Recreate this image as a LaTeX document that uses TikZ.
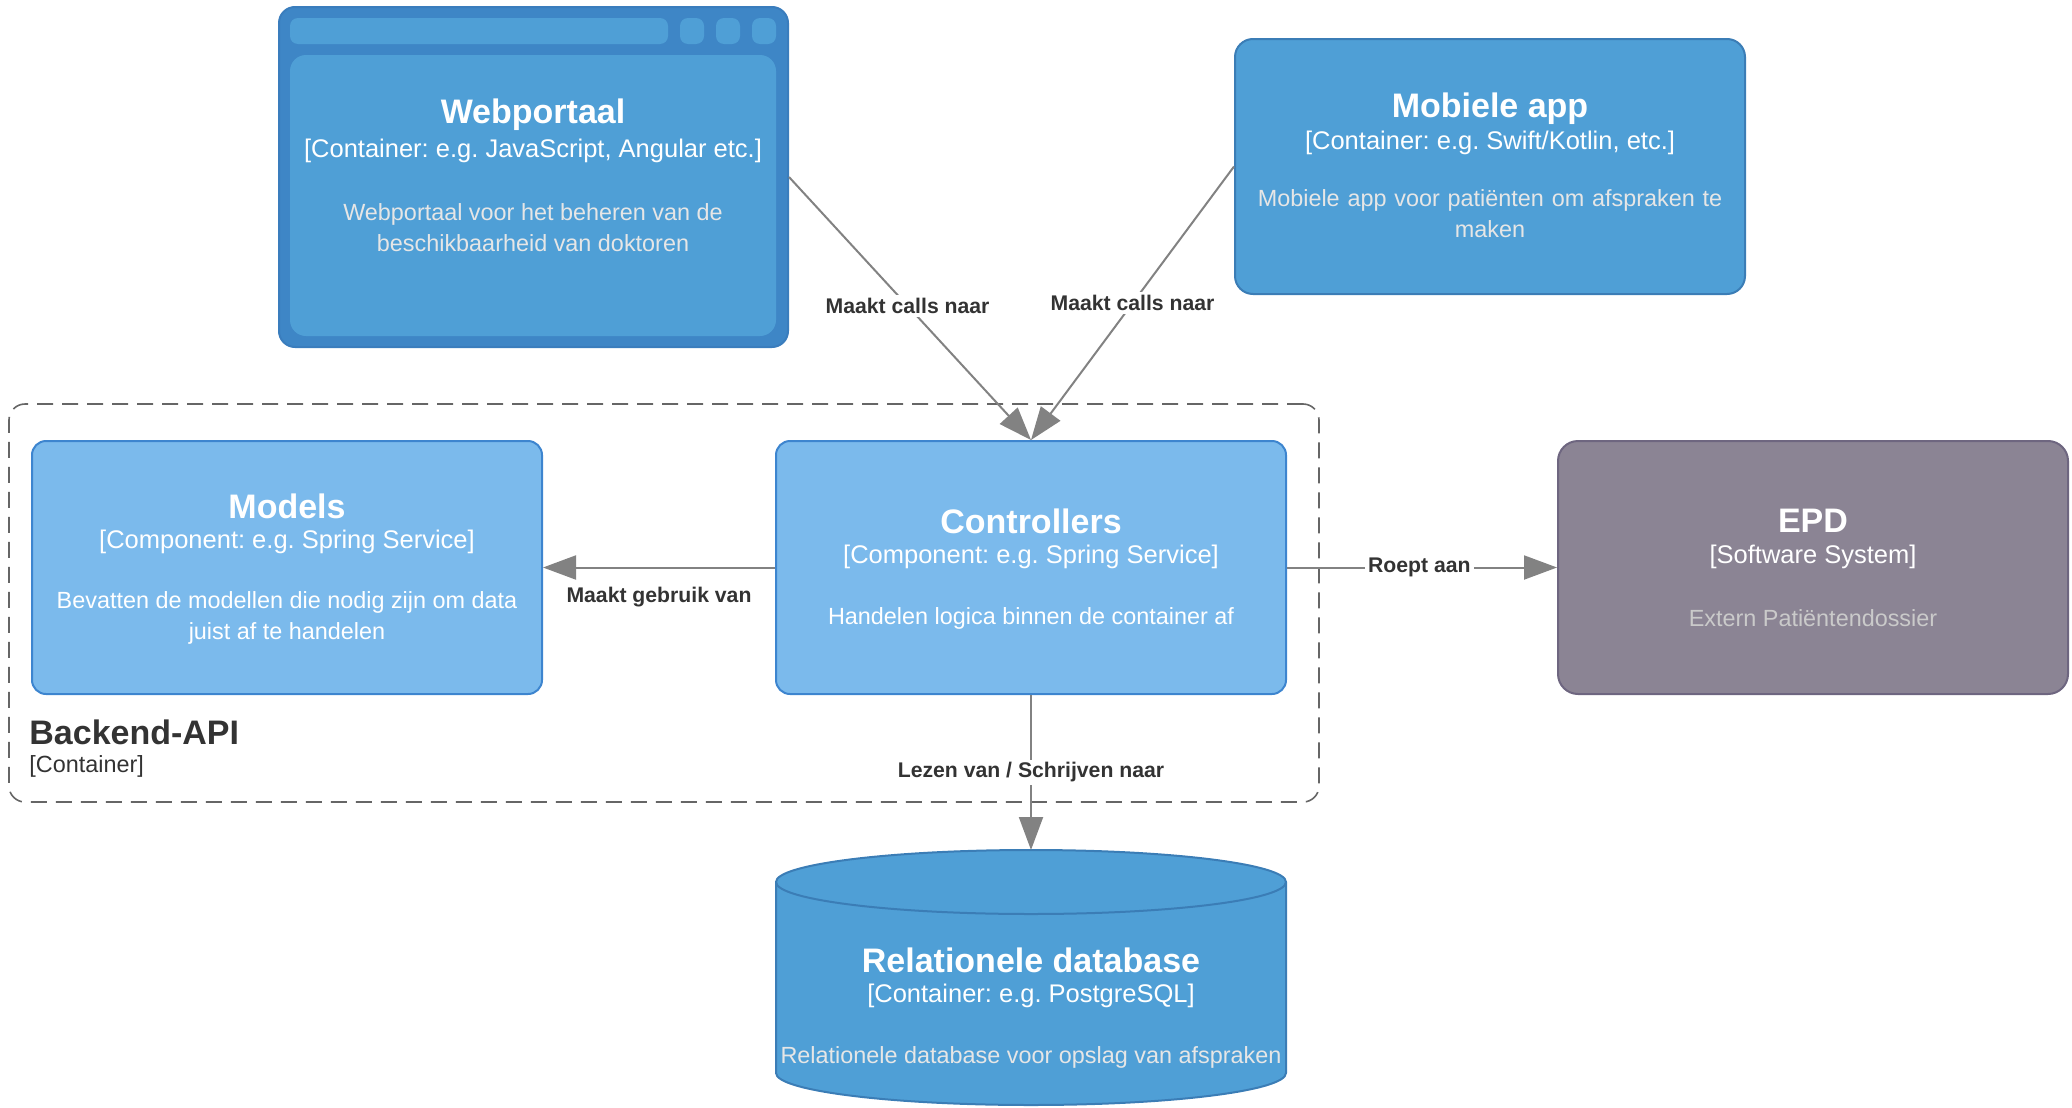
\documentclass[tikz,border=0pt]{standalone}
\usepackage{fontspec}
\setmainfont{Liberation Sans}
\usetikzlibrary{arrows.meta}
\definecolor{contfill}{HTML}{4F9FD6}
\definecolor{contstroke}{HTML}{3B7DB6}
\definecolor{webouter}{HTML}{3E86C6}
\definecolor{webstroke}{HTML}{3A7DBD}
\definecolor{compfill}{HTML}{7BBAEC}
\definecolor{compstroke}{HTML}{3D85CF}
\definecolor{extfill}{HTML}{8B8494}
\definecolor{extstroke}{HTML}{6E6680}
\definecolor{edgegray}{HTML}{828282}
\definecolor{boundgray}{HTML}{666666}
\definecolor{labelgray}{HTML}{333333}
\definecolor{descgray}{HTML}{E6E6E6}
\definecolor{extdesc}{HTML}{CACACA}
\frenchspacing
\begin{document}
\begin{tikzpicture}[x=0.5pt,y=-0.5pt,
  box/.style={draw, rounded corners=7pt, line width=1pt, inner sep=0pt},
  titletext/.style={text=white, font=\fontsize{17}{20}\selectfont\bfseries, inner sep=0pt},
  techtext/.style={text=white, font=\fontsize{12.75}{15}\selectfont, inner sep=0pt},
  desctext/.style={text=descgray, font=\fontsize{11.7}{15.5}\selectfont, align=center, inner sep=0pt},
  rel/.style={draw=edgegray, line width=1pt, -{Triangle[length=16.5pt,width=12pt]}},
  rellabel/.style={font=\fontsize{10.6}{12}\selectfont\bfseries, text=labelgray, fill=white, inner sep=1.5pt}
]
\useasboundingbox (0,0) rectangle (2072,1108);

% Backend boundary
\node[draw=boundgray, dash pattern=on 8pt off 4.5pt, line width=0.8pt, rounded corners=8pt,
      minimum width=655pt, minimum height=199pt, inner sep=0pt] (backend) at (664,603) {};
\node[anchor=west, text=labelgray, font=\fontsize{17}{20}\selectfont\bfseries, inner sep=0pt] (backendtitle) at (29,732) {Backend-API};
\node[anchor=west, text=labelgray, font=\fontsize{11.7}{14}\selectfont, inner sep=0pt] (backendtype) at (29,766) {[Container]};

% Webportaal (browser container)
\node[box, fill=webouter, draw=webstroke, rounded corners=8pt, minimum width=254.5pt, minimum height=170pt] (web) at (533.5,177) {};
\node[fill=contfill, rounded corners=4pt, minimum width=189pt, minimum height=13pt, inner sep=0pt] (webbar) at (479,31) {};
\node[fill=contfill, rounded corners=4pt, minimum width=12pt, minimum height=13pt, inner sep=0pt] (webbtna) at (692,31) {};
\node[fill=contfill, rounded corners=4pt, minimum width=12pt, minimum height=13pt, inner sep=0pt] (webbtnb) at (728,31) {};
\node[fill=contfill, rounded corners=4pt, minimum width=12pt, minimum height=13pt, inner sep=0pt] (webbtnc) at (764,31) {};
\node[fill=contfill, rounded corners=8pt, minimum width=243pt, minimum height=140.5pt, inner sep=0pt] (webinner) at (533,195.5) {};
\node[titletext] (webtitle) at (533,115) {Webportaal};
\node[techtext] (webtech) at (533,151) {[Container: e.g. JavaScript, Angular etc.]};
\node[desctext] (webdesc) at (533,227.5) {Webportaal voor het beheren van de\\beschikbaarheid van doktoren};

% Mobile app
\node[box, fill=contfill, draw=contstroke, rounded corners=9pt, minimum width=255pt, minimum height=127.5pt] (mobile) at (1490,166.5) {};
\node[titletext] (mobiletitle) at (1490,109) {Mobiele app};
\node[techtext] (mobiletech) at (1490,143) {[Container: e.g. Swift/Kotlin, etc.]};
\node[desctext, text width=240pt] (mobiledesc) at (1490,214) {Mobiele app voor patiënten om afspraken te\\maken};

% Models
\node[box, fill=compfill, draw=compstroke, minimum width=255pt, minimum height=126.5pt] (models) at (287,567.5) {};
\node[titletext] (modelstitle) at (287,506) {Models};
\node[techtext] (modelstech) at (287,542) {[Component: e.g. Spring Service]};
\node[desctext, text=white] (modelsdesc) at (287,617.5) {Bevatten de modellen die nodig zijn om data\\juist af te handelen};

% Controllers
\node[box, fill=compfill, draw=compstroke, minimum width=255pt, minimum height=126.5pt] (ctrl) at (1031,567.5) {};
\node[titletext] (ctrltitle) at (1031,521) {Controllers};
\node[techtext] (ctrltech) at (1031,557) {[Component: e.g. Spring Service]};
\node[desctext, text=white] (ctrldesc) at (1031,618) {Handelen logica binnen de container af};

% EPD
\node[box, fill=extfill, draw=extstroke, rounded corners=10pt, minimum width=255pt, minimum height=126.5pt] (epd) at (1813,567.5) {};
\node[titletext] (epdtitle) at (1813,521) {EPD};
\node[techtext] (epdtech) at (1813,557) {[Software System]};
\node[desctext, text=extdesc] (epddesc) at (1813,618) {Extern Patiëntendossier};

% Database cylinder
\path[fill=contfill, draw=contstroke, line width=1pt]
  (776,882) -- (776,1073)
  arc[start angle=180, end angle=360, x radius=127.5pt, y radius=16pt]
  -- (1286,882)
  arc[start angle=0, end angle=180, x radius=127.5pt, y radius=16pt] -- cycle;
\draw[contstroke, line width=1pt] (776,882) arc[start angle=180, end angle=360, x radius=127.5pt, y radius=16pt];
\coordinate (dbtop) at (1031,850);
\node[titletext] (dbtitle) at (1031,960) {Relationele database};
\node[techtext] (dbtech) at (1031,996) {[Container: e.g. PostgreSQL]};
\node[desctext] (dbdesc) at (1031,1057) {Relationele database voor opslag van afspraken};

% Relations
\draw[rel] (web.east) -- node[rellabel, pos=0.49] (lab1) {Maakt calls naar} (ctrl.north);
\draw[rel] (mobile.west) -- node[rellabel, pos=0.5] (lab2) {Maakt calls naar} (ctrl.north);
\draw[rel] (ctrl.west) -- node[rellabel, fill=none, pos=0.5, yshift=-15pt] (lab3) {Maakt gebruik van} (models.east);
\draw[rel] (ctrl.east) -- node[rellabel, pos=0.49] (lab4) {Roept aan} (epd.west);
\draw[rel] (ctrl.south) -- node[rellabel, pos=0.5] (lab5) {Lezen van / Schrijven naar} (dbtop);
\end{tikzpicture}
\end{document}
